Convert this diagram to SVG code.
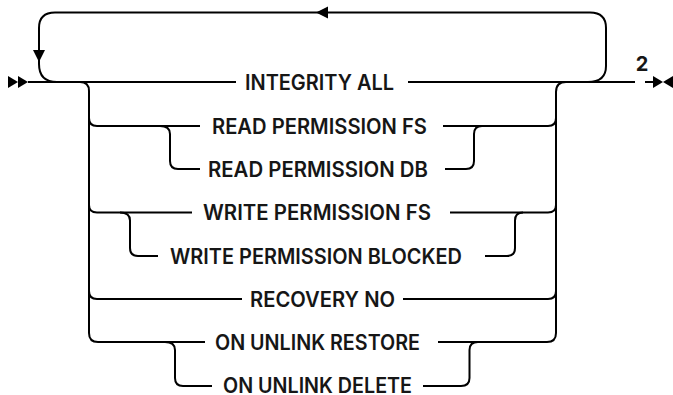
<svg xmlns="http://www.w3.org/2000/svg" width="673" height="395" viewBox="0 0 673 395">
<style>
.c{fill:none;stroke:#000;stroke-width:2;stroke-linecap:butt;stroke-linejoin:round}
.h{fill:#000;stroke:none}
.t{font-family:Inter,"Liberation Sans",Arial,sans-serif;font-size:21px;font-weight:600;fill:#161616}
.n{font-family:Inter,"Liberation Sans",Arial,sans-serif;font-size:20px;font-weight:700;fill:#161616;text-anchor:middle}
</style>
<rect width="673" height="395" fill="#fff"/>
<g id="connectors">
  <path class="c" d="M28,82 H236 M408,82 H635 M645,82 H654"/>
  <path class="c" d="M588,82 Q606,82 606,66 V28 Q606,12.5 590,12.5 H55 Q39,12.5 39,28 V64 Q39,82 57,82"/>
  <path class="c" d="M80,82 Q89,82 89,91 V333 Q89,342 98,342 H205"/>
  <path class="c" d="M438,342 H547 Q556,342 556,333 V92 Q556,82 566,82"/>
  <path class="c" d="M89,118 Q89,126 97,126 H200 M443,126 H548 Q556,126 556,118"/>
  <path class="c" d="M160,126 Q170,126 170,134 V161 Q170,169 178,169 H200"/>
  <path class="c" d="M445,169 H466 Q474,169 474,161 V134 Q474,126 482,126"/>
  <path class="c" d="M89,205 Q89,212.5 97,212.5 H192 M450,212.5 H548 Q556,212.5 556,205"/>
  <path class="c" d="M120,212.5 Q130,212.5 130,220.5 V248 Q130,256 138,256 H158"/>
  <path class="c" d="M485,256 H507 Q515,256 515,248 V220.5 Q515,212.5 523,212.5"/>
  <path class="c" d="M89,291 Q89,299 97,299 H242 M403,299 H548 Q556,299 556,291"/>
  <path class="c" d="M165,342 Q175,342 175,350 V378 Q175,386 183,386 H212"/>
  <path class="c" d="M423,386 H461 Q469.5,386 469.5,378 V350 Q469.5,342 478,342"/>
  <polygon class="h" points="8,76 18,82 8,88"/>
  <polygon class="h" points="18,76 28,82 18,88"/>
  <polygon class="h" points="33,50 45,50 39,62"/>
  <polygon class="h" points="316,12.5 328,6.5 328,18.5"/>
  <polygon class="h" points="653,76 663,82 653,88"/>
  <polygon class="h" points="673,76 663,82 673,88"/>
</g>
<g id="integrity-all"><text class="t" x="245" y="89.6" textLength="149" lengthAdjust="spacingAndGlyphs">INTEGRITY ALL</text></g>
<g id="read-permission-fs"><text class="t" x="212" y="133.6" textLength="215" lengthAdjust="spacingAndGlyphs">READ PERMISSION FS</text></g>
<g id="read-permission-db"><text class="t" x="208" y="176.6" textLength="220" lengthAdjust="spacingAndGlyphs">READ PERMISSION DB</text></g>
<g id="write-permission-fs"><text class="t" x="203" y="220.1" textLength="228" lengthAdjust="spacingAndGlyphs">WRITE PERMISSION FS</text></g>
<g id="write-permission-blocked"><text class="t" x="170" y="263.6" textLength="292" lengthAdjust="spacingAndGlyphs">WRITE PERMISSION BLOCKED</text></g>
<g id="recovery-no"><text class="t" x="250" y="306.6" textLength="145" lengthAdjust="spacingAndGlyphs">RECOVERY NO</text></g>
<g id="on-unlink-restore"><text class="t" x="215" y="349.6" textLength="205" lengthAdjust="spacingAndGlyphs">ON UNLINK RESTORE</text></g>
<g id="on-unlink-delete"><text class="t" x="223" y="393.2" textLength="189" lengthAdjust="spacingAndGlyphs">ON UNLINK DELETE</text></g>
<g id="note-2"><text class="n" x="642" y="71">2</text></g>
</svg>
